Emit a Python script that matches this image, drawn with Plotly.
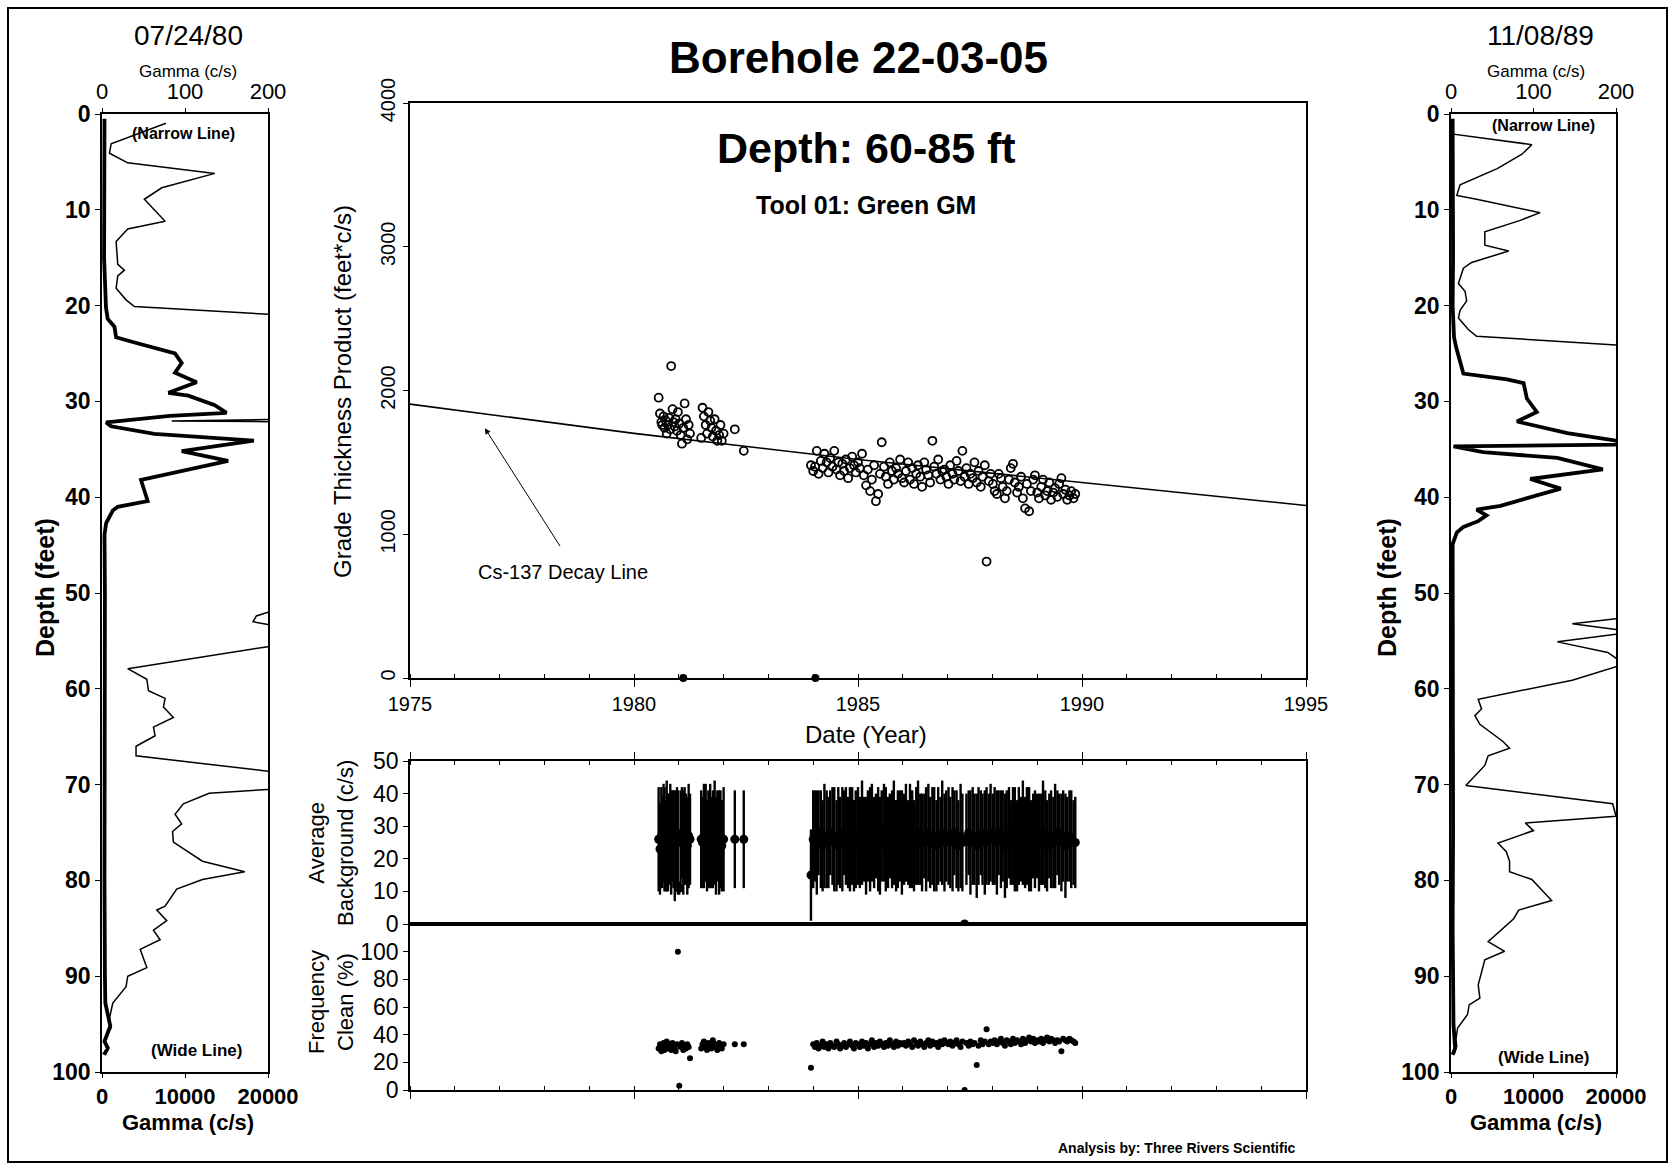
import plotly.graph_objects as go

W, H = 1675, 1167
FONT = "Arial, Liberation Sans, Helvetica, sans-serif"

# ---------------- data ----------------
# Left log (07/24/80)
L_N_DEPTH = [
    0.96, 3.1, 4.1, 5.1, 6.2, 7.7, 8.9, 11.2, 12.0, 13.3,
    15.7, 16.3, 16.9, 18.2, 19.4, 20.1, 20.9, 21.2, 31.8, 32.05,
    32.15, 51.6, 52.0, 52.4, 53.0, 53.3, 53.6, 55.4, 55.6, 57.9,
    59.0, 60.2, 61.0, 61.9, 63.0, 64.0, 64.9, 66.0, 67.0, 68.6,
    68.8, 70.3, 70.5, 70.9, 72.0, 73.1, 74.1, 74.9, 76.0, 78.0,
    79.1, 79.9, 80.9, 82.7, 83.1, 84.2, 85.2, 86.2, 87.2, 89.1,
    90.0, 91.1, 92.8, 94.4, 95.4, 96.6, 97.7, 98.1]
L_N_GAMMA = [
    77, 11, 9, 31, 136, 72, 51, 76, 31, 17,
    19, 27, 19, 17, 29, 39, 200, 260, 260, 84,
    260, 260, 200, 186, 182, 200, 260, 260, 200, 31,
    54, 56, 76, 74, 86, 62, 64, 41, 41, 200,
    260, 260, 200, 129, 98, 88, 96, 85, 86, 121,
    172, 121, 90, 76, 66, 78, 62, 70, 46, 54,
    31, 29, 13, 9, 11, 3, 7, 1]
L_W_DEPTH = [
    0.5, 5, 10, 15, 20.2, 21.4, 22.2, 23.3, 23.8, 25.0,
    26.0, 27.0, 28.0, 29.1, 29.4, 30.4, 31.2, 31.5, 32.2, 32.6,
    33.4, 34.1, 35.2, 36.2, 38.2, 40.4, 41.0, 41.4, 42.7, 43.9,
    50, 60, 70, 80, 90, 92.8, 95.2, 95.6, 96.8, 97.5,
    98.2]
L_W_GAMMA = [
    300, 250, 300, 250, 480, 690, 1500, 1700, 3700, 8800,
    9600, 8800, 11400, 8000, 10400, 13600, 15000, 8200, 500, 1100,
    6300, 18300, 9600, 15200, 4700, 5500, 1900, 1300, 500, 300,
    350, 300, 350, 300, 350, 400, 1000, 800, 300, 700,
    250]

# Right log (11/08/89)
R_N_DEPTH = [
    1.0, 2.1, 3.2, 4.2, 5.7, 7.4, 8.5, 8.9, 10.3, 11.1,
    12.3, 13.7, 14.3, 15.5, 16.1, 17.7, 18.5, 19.5, 20.5, 21.3,
    22.5, 23.2, 24.1, 24.4, 52.4, 52.7, 53.2, 53.8, 54.0, 54.3,
    55.1, 56.2, 56.8, 57.0, 57.5, 57.7, 59.1, 61.1, 62.1, 62.8,
    63.7, 65.5, 66.2, 67.0, 68.0, 70.1, 72.0, 73.3, 74.0, 74.8,
    76.1, 77.0, 78.0, 79.1, 79.9, 82.1, 83.1, 84.0, 86.4, 87.4,
    88.3, 89.5, 90.9, 92.3, 93.0, 94.0, 95.4, 96.6, 97.3, 98.1]
R_N_GAMMA = [
    1, 3, 98, 86, 56, 11, 7, 31, 108, 84,
    41, 41, 70, 25, 15, 9, 17, 19, 11, 9,
    21, 31, 200, 260, 260, 200, 147, 200, 260, 200,
    129, 190, 200, 260, 260, 200, 147, 33, 37, 29,
    35, 63, 71, 45, 41, 18, 196, 200, 90, 100,
    57, 67, 71, 71, 98, 122, 82, 76, 45, 65,
    41, 37, 33, 35, 22, 20, 8, 6, 7, 4]
R_W_DEPTH = [
    0.5, 5, 10, 15, 20, 23.3, 24.3, 25.3, 26.1, 27.1,
    27.7, 28.1, 29.7, 31.1, 32.1, 33.3, 34.1, 34.5, 34.7, 35.3,
    35.9, 37.1, 38.1, 39.1, 40.9, 41.3, 41.9, 42.5, 43.1, 43.7,
    44.9, 55, 65, 75, 85, 95, 97.5, 98.2]
R_W_GAMMA = [
    200, 250, 200, 250, 200, 365, 610, 900, 1100, 1500,
    6800, 8800, 9200, 10400, 8000, 14100, 20000, 20500, 300, 3900,
    12900, 18400, 9600, 13300, 6000, 3100, 4300, 3300, 1500, 700,
    200, 250, 200, 250, 200, 300, 500, 200]

# Measurement dates
DATES_A = [
    1980.55, 1980.58, 1980.61, 1980.63, 1980.66, 1980.68, 1980.71, 1980.73, 1980.76, 1980.78,
    1980.81, 1980.83, 1980.86, 1980.88, 1980.91, 1980.93, 1980.96, 1980.98, 1981.01, 1981.04,
    1981.07, 1981.10, 1981.13, 1981.16, 1981.19, 1981.22, 1981.25, 1981.50, 1981.53, 1981.56,
    1981.60, 1981.63, 1981.66, 1981.70, 1981.73, 1981.76, 1981.80, 1981.83, 1981.86, 1981.90,
    1981.93, 1981.96, 1982.00, 1982.25, 1982.45]
DATES_B = [
    1983.95, 1984.00, 1984.04, 1984.08, 1984.12, 1984.17, 1984.21, 1984.25, 1984.30, 1984.34,
    1984.38, 1984.43, 1984.47, 1984.52, 1984.56, 1984.60, 1984.65, 1984.69, 1984.73, 1984.78,
    1984.82, 1984.87, 1984.91, 1984.95,
    1985.00, 1985.04, 1985.09, 1985.13, 1985.18, 1985.22, 1985.27, 1985.31, 1985.36, 1985.40,
    1985.45, 1985.49, 1985.53, 1985.58, 1985.62, 1985.67, 1985.71, 1985.76, 1985.80, 1985.85,
    1985.89, 1985.94, 1985.98,
    1986.03, 1986.07, 1986.12, 1986.16, 1986.21, 1986.25, 1986.30, 1986.34, 1986.39, 1986.43,
    1986.48, 1986.52, 1986.57, 1986.61, 1986.66, 1986.70, 1986.75, 1986.79, 1986.84, 1986.88,
    1986.93, 1986.97,
    1987.02, 1987.06, 1987.11, 1987.15, 1987.20, 1987.24, 1987.29, 1987.33, 1987.38, 1987.42,
    1987.47, 1987.51, 1987.56, 1987.60, 1987.65, 1987.69, 1987.74, 1987.78, 1987.83, 1987.87,
    1987.92, 1987.96,
    1988.01, 1988.05, 1988.10, 1988.14, 1988.19, 1988.23, 1988.28, 1988.32, 1988.37, 1988.41,
    1988.46, 1988.50, 1988.55, 1988.59, 1988.64, 1988.68, 1988.73, 1988.77, 1988.82, 1988.86,
    1988.91, 1988.95,
    1989.00, 1989.04, 1989.09, 1989.13, 1989.18, 1989.22, 1989.27, 1989.31, 1989.36, 1989.40,
    1989.45, 1989.49, 1989.54, 1989.58, 1989.63, 1989.67, 1989.72, 1989.76, 1989.81, 1989.85]

# Grade thickness product (feet*c/s)
GTP_A = [
    1950, 1840, 1780, 1760, 1820, 1740, 1790, 1700, 1760, 1810,
    1730, 2170, 1870, 1780, 1750, 1800, 1720, 1850, 1770, 1690,
    1630, 1740, 1910, 1800, 1660, 1760, 1700, 1670, 1880, 1820,
    1760, 1700, 1850, 1790, 1740, 1680, 1800, 1720, 1650, 1690,
    1760, 1650, 1700, 1730, 1580]
GTP_B = [
    1480, 1440, 1470, 1580, 1420, 1510, 1460, 1560, 1500, 1430,
    1530, 1470, 1580, 1450, 1500, 1410, 1490, 1440, 1520, 1390,
    1460, 1540, 1480, 1430,
    1500, 1460, 1560, 1410, 1340, 1450, 1300, 1380, 1480, 1230,
    1280, 1420, 1640, 1470, 1400, 1350, 1500, 1440, 1380, 1460,
    1420, 1520, 1390,
    1360, 1440, 1500, 1380, 1460, 1350, 1420, 1480, 1400, 1330,
    1500, 1450, 1410, 1360, 1650, 1470, 1420, 1520, 1380, 1440,
    1450, 1400,
    1350, 1480, 1420, 1380, 1510, 1440, 1370, 1580, 1400, 1460,
    1350, 1420, 1390, 1500, 1360, 1440, 1330, 1400, 1480, 810,
    1370, 1420,
    1350, 1300, 1280, 1420, 1390, 1330, 1250, 1300, 1380, 1460,
    1490, 1360, 1290, 1330, 1400, 1250, 1180, 1350, 1160, 1300,
    1380, 1410,
    1290, 1250, 1330, 1380, 1270, 1300, 1360, 1240, 1290, 1320,
    1260, 1350, 1390, 1280, 1310, 1240, 1270, 1300, 1250, 1280]
ZERO_DATES = [1981.10, 1984.05]
ZERO_GTP = [0, 0]
DECAY_YEARS = [1975, 1980, 1985, 1990, 1995]
DECAY_GTP = [1905, 1702, 1520, 1358, 1200]

# Average background (c/s) and its spread
BKG_A = [
    26, 23, 27, 25, 28, 26, 24, 27, 25, 26,
    28, 25, 27, 26, 24, 26, 27, 25, 11, 26,
    28, 25, 27, 26, 24, 27, 26, 26, 25, 27,
    28, 24, 26, 27, 25, 26, 28, 24, 27, 25,
    26, 24, 26, 26, 26]
BKG_ERR_A = [
    16, 14, 15, 14, 15, 16, 14, 17, 15, 14,
    15, 16, 14, 15, 17, 14, 15, 16, 2, 15,
    14, 16, 15, 14, 15, 16, 14, 15, 14, 16,
    15, 14, 15, 16, 14, 15, 16, 15, 14, 16,
    15, 14, 16, 15, 15]
BKG_B = [
    15, 26, 27, 25, 28, 26, 24, 27, 26, 25, 28, 27, 26, 24, 27, 25, 26, 28, 27, 25, 26, 27, 24, 26,
    27, 25, 28, 26, 24, 27, 26, 28, 25, 27, 26, 24, 27, 28, 26, 25, 27, 26, 28, 24, 26, 27, 25,
    26, 28, 25, 27, 26, 24, 27, 28, 26, 25, 27, 26, 28, 25, 27, 26, 24, 27, 26, 28, 25, 27,
    27, 25, 26, 28, 26, 24, 27, 25, 0, 26, 28, 25, 27, 26, 24, 27, 28, 26, 25, 27, 26, 28,
    26, 27, 25, 28, 26, 27, 24, 26, 28, 25, 27, 26, 24, 27, 26, 28, 25, 27, 26, 24, 27, 26,
    27, 25, 26, 28, 26, 24, 27, 26, 25, 27, 28, 26, 25, 27, 24, 26, 27, 26, 25, 25]
BKG_ERR_B = [
    14, 15, 14, 16, 13, 15, 14, 16, 15, 14, 13, 15, 16, 14, 15, 14, 16, 13, 15, 14, 16, 15, 14, 15,
    15, 14, 16, 13, 15, 14, 16, 15, 14, 13, 16, 15, 14, 15, 16, 14, 13, 15, 16, 14, 15, 14, 16,
    14, 15, 13, 16, 15, 14, 15, 16, 14, 15, 13, 16, 15, 14, 15, 16, 14, 15, 13, 16, 15, 14,
    15, 14, 16, 13, 15, 14, 16, 15, 0, 14, 13, 16, 15, 14, 16, 15, 13, 14, 16, 15, 14, 15,
    14, 15, 16, 13, 15, 14, 16, 15, 14, 13, 15, 16, 14, 15, 13, 16, 14, 15, 16, 14, 13, 15,
    13, 15, 14, 16, 15, 14, 13, 15, 14, 16, 13, 14, 15, 14, 16, 13, 14, 15, 13, 14]

# Frequency clean (%)
FREQ_A = [
    30, 33, 28, 31, 34, 29, 32, 35, 30, 33,
    31, 29, 34, 32, 30, 28, 33, 100, 3, 31,
    34, 29, 32, 30, 33, 31, 23, 30, 33, 35,
    31, 29, 34, 32, 30, 36, 33, 31, 29, 34,
    32, 30, 33, 33, 33]
FREQ_B = [
    16, 33, 31, 34, 30, 32, 35, 31, 33, 30, 34, 32, 31, 35, 33, 30, 32, 34, 31, 33, 35, 32, 30, 34,
    33, 31, 35, 32, 34, 30, 33, 36, 31, 34, 32, 35, 33, 31, 34, 32, 36, 33, 31, 35, 32, 34, 33,
    34, 32, 35, 33, 31, 36, 34, 32, 35, 33, 31, 34, 36, 32, 35, 33, 34, 31, 35, 33, 36, 34,
    33, 35, 32, 34, 36, 33, 31, 35, 0, 34, 32, 35, 33, 34, 18, 32, 36, 33, 35, 44, 33, 35,
    34, 36, 33, 35, 37, 34, 32, 36, 35, 33, 37, 34, 36, 35, 33, 37, 34, 36, 38, 35, 37, 34,
    36, 35, 37, 34, 36, 38, 35, 37, 36, 34, 36, 35, 28, 37, 36, 35, 37, 36, 35, 34]

DATES = DATES_A + DATES_B
GTP = GTP_A + GTP_B
BKG = BKG_A + BKG_B
BKG_ERR = BKG_ERR_A + BKG_ERR_B
FREQ = FREQ_A + FREQ_B

DEPTH_TICKS = [0, 10, 20, 30, 40, 50, 60, 70, 80, 90, 100]
NARROW_TICKS = [0, 100, 200]
WIDE_TICKS = [0, 10000, 20000]
WIDE_TICKTEXT = ["0", "10000", "20000"]
YEAR_TICKS = [1975, 1980, 1985, 1990, 1995]
GTP_TICKS = [0, 1000, 2000, 3000, 4000]
BKG_TICKS = [0, 10, 20, 30, 40, 50]
FREQ_TICKS = [0, 20, 40, 60, 80, 100]


# ---------------- layout helpers ----------------
def px(x):
    return x / W


def py(y):
    return 1 - y / H


BLACK = "black"
fig = go.Figure()

# left logs
fig.add_trace(go.Scatter(x=L_W_GAMMA, y=L_W_DEPTH, xaxis="x", yaxis="y", mode="lines",
                         line=dict(color=BLACK, width=3.8)))
fig.add_trace(go.Scatter(x=L_N_GAMMA, y=L_N_DEPTH, xaxis="x2", yaxis="y", mode="lines",
                         line=dict(color=BLACK, width=1.5)))
# right logs
fig.add_trace(go.Scatter(x=R_W_GAMMA, y=R_W_DEPTH, xaxis="x3", yaxis="y2", mode="lines",
                         line=dict(color=BLACK, width=3.8)))
fig.add_trace(go.Scatter(x=R_N_GAMMA, y=R_N_DEPTH, xaxis="x4", yaxis="y2", mode="lines",
                         line=dict(color=BLACK, width=1.5)))
# centre: decay line and GTP
fig.add_trace(go.Scatter(x=DECAY_YEARS, y=DECAY_GTP, xaxis="x5", yaxis="y3", mode="lines",
                         line=dict(color=BLACK, width=1.6)))
fig.add_trace(go.Scatter(x=DATES, y=GTP, xaxis="x5", yaxis="y3", mode="markers",
                         marker=dict(symbol="circle-open", size=8, color=BLACK,
                                     line=dict(width=1.8, color=BLACK))))
fig.add_trace(go.Scatter(x=ZERO_DATES, y=ZERO_GTP, xaxis="x5", yaxis="y3", mode="markers",
                         cliponaxis=False,
                         marker=dict(symbol="circle", size=8, color=BLACK)))
# average background
fig.add_trace(go.Scatter(x=DATES, y=BKG, xaxis="x6", yaxis="y4", mode="markers",
                         marker=dict(symbol="circle", size=9, color=BLACK),
                         error_y=dict(type="data", array=BKG_ERR, visible=True,
                                      thickness=2.4, width=0, color=BLACK)))
# frequency clean
fig.add_trace(go.Scatter(x=DATES, y=FREQ, xaxis="x7", yaxis="y5", mode="markers",
                         marker=dict(symbol="circle", size=6, color=BLACK)))

axis_common = dict(showgrid=False, zeroline=False, showline=True, linecolor=BLACK,
                   linewidth=1.6, tickcolor=BLACK, ticks="outside", ticklen=4,
                   tickwidth=1.2, automargin=False)

LX = [px(102), px(268)]
RX = [px(1451), px(1616)]
LOG_Y = [py(1072), py(114)]
CX = [px(410), px(1306)]

bold22 = dict(family=FONT, size=22, color=BLACK, weight="bold")
bold23 = dict(family=FONT, size=23, color=BLACK, weight="bold")
reg20 = dict(family=FONT, size=20, color=BLACK)
reg22 = dict(family=FONT, size=22, color=BLACK)
reg23 = dict(family=FONT, size=23, color=BLACK)

date_axis = dict(range=[1975, 1995], tickvals=YEAR_TICKS, ticks="outside", ticklen=7,
                 minor=dict(dtick=1, tick0=1975, ticks="inside", ticklen=4,
                            tickcolor=BLACK, tickwidth=1),
                 mirror=True)

fig.update_layout(
    width=W, height=H, margin=dict(l=0, r=0, t=0, b=0, pad=0, autoexpand=False),
    paper_bgcolor="white", plot_bgcolor="white", showlegend=False,
    font=dict(family=FONT, color=BLACK),
    xaxis=dict(axis_common, domain=LX, anchor="y", side="bottom", range=[0, 20000],
               tickvals=WIDE_TICKS, ticktext=WIDE_TICKTEXT, tickfont=bold22),
    xaxis2=dict(axis_common, overlaying="x", anchor="y", side="top", range=[0, 200],
                tickvals=NARROW_TICKS, tickfont=reg22),
    yaxis=dict(axis_common, domain=LOG_Y, anchor="x", range=[100, 0], tickvals=DEPTH_TICKS,
               mirror=True, ticklen=5, tickfont=bold23),
    xaxis3=dict(axis_common, domain=RX, anchor="y2", side="bottom", range=[0, 20000],
                tickvals=WIDE_TICKS, ticktext=WIDE_TICKTEXT, tickfont=bold22),
    xaxis4=dict(axis_common, overlaying="x3", anchor="y2", side="top", range=[0, 200],
                tickvals=NARROW_TICKS, tickfont=reg22),
    yaxis2=dict(axis_common, domain=LOG_Y, anchor="x3", range=[100, 0], tickvals=DEPTH_TICKS,
                mirror=True, ticklen=5, tickfont=bold23),
    xaxis5=dict(axis_common, **date_axis, domain=CX, anchor="y3", side="bottom",
                tickfont=reg20),
    yaxis3=dict(axis_common, domain=[py(678), py(103)], anchor="x5", range=[0, 4000],
                tickvals=GTP_TICKS, tickangle=-90, mirror=True, ticklen=5, tickfont=reg20),
    xaxis6=dict(axis_common, **date_axis, domain=CX, anchor="y4", side="top",
                showticklabels=False),
    yaxis4=dict(axis_common, domain=[py(924), py(761)], anchor="x6", range=[0, 50],
                tickvals=BKG_TICKS, mirror=True, ticklen=5, tickfont=reg23),
    xaxis7=dict(axis_common, **date_axis, domain=CX, anchor="y5", side="bottom",
                showticklabels=False),
    yaxis5=dict(axis_common, domain=[py(1090), py(924)], anchor="x7", range=[0, 120],
                tickvals=FREQ_TICKS, mirror=True, ticklen=5, tickfont=reg23),
)


def note(text, x, y, size, angle=0, bold=False, xanchor="center"):
    fig.add_annotation(text=text, x=px(x), y=py(y), xref="paper", yref="paper",
                       showarrow=False, textangle=angle, xanchor=xanchor, yanchor="middle",
                       align="center",
                       font=dict(family=FONT, size=size, color=BLACK,
                                 weight="bold" if bold else "normal"))


note("Borehole 22-03-05", 858, 57, 44, bold=True)
note("Depth: 60-85 ft", 866, 148, 43, bold=True)
note("Tool 01: Green GM", 866, 205, 25, bold=True)
note("07/24/80", 188, 36, 28)
note("Gamma (c/s)", 188, 72, 17)
note("11/08/89", 1540, 36, 28)
note("Gamma (c/s)", 1536, 72, 17)
note("(Narrow Line)", 183, 134, 16, bold=True)
note("(Narrow Line)", 1543, 126, 16, bold=True)
note("(Wide Line)", 196, 1050, 17, bold=True)
note("(Wide Line)", 1543, 1057, 17, bold=True)
note("Gamma (c/s)", 188, 1122, 22, bold=True)
note("Gamma (c/s)", 1536, 1122, 22, bold=True)
note("Depth (feet)", 45, 588, 25, angle=-90, bold=True)
note("Depth (feet)", 1387, 588, 25, angle=-90, bold=True)
note("Grade Thickness Product (feet*c/s)", 342, 392, 24, angle=-90)
note("Date (Year)", 866, 734, 24)
note("Cs-137 Decay Line", 563, 572, 20)
note("Average<br>Background (c/s)", 331, 843, 22, angle=-90)
note("Frequency<br>Clean (%)", 331, 1002, 22, angle=-90)
note("Analysis by: Three Rivers Scientific", 1298, 1148, 14, bold=True, xanchor="right")

# arrow pointing at the decay line
fig.add_annotation(x=1976.67, y=1738, ax=1978.37, ay=907, xref="x5", yref="y3",
                   axref="x5", ayref="y3", text="", showarrow=True, arrowhead=2,
                   arrowsize=1.2, arrowwidth=1, arrowcolor=BLACK)

# outer frame
fig.add_shape(type="rect", xref="paper", yref="paper", x0=px(8), x1=px(1667),
              y0=py(1162), y1=py(8), line=dict(color=BLACK, width=2))

fig.write_html("out.html", config={"displayModeBar": False},
               post_script="document.body.style.margin='0px';")
